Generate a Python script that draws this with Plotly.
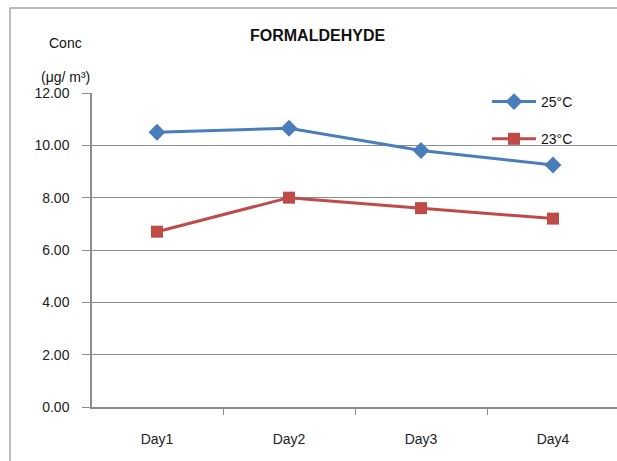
import plotly.graph_objects as go

days = ["Day1", "Day2", "Day3", "Day4"]
temp25 = [10.50, 10.65, 9.80, 9.25]
temp23 = [6.70, 8.00, 7.60, 7.20]
y_ticks = [0, 2, 4, 6, 8, 10, 12]
y_tick_text = ["0.00", "2.00", "4.00", "6.00", "8.00", "10.00", "12.00"]

FONT = "Liberation Sans"
GRID = "#8c8c8c"

fig = go.Figure()
fig.add_trace(go.Scatter(
    x=days, y=temp25, name="25°C", mode="lines+markers",
    line=dict(color="#4A7EBB", width=3),
    marker=dict(symbol="diamond", size=13, color="#4A7EBB"),
    legendgroup="a",
))
fig.add_trace(go.Scatter(
    x=days, y=temp23, name="23°C", mode="lines+markers",
    line=dict(color="#BE4B48", width=3),
    marker=dict(symbol="square", size=12, color="#BE4B48"),
    legendgroup="b",
))

W, H = 617, 461
L, T, B, R = 92, 93, 54, 0
pw, ph = W - L - R, H - T - B

fig.update_layout(
    width=W, height=H,
    margin=dict(l=L, r=R, t=T, b=B, pad=0),
    paper_bgcolor="white", plot_bgcolor="white",
    font=dict(family=FONT, size=13, color="#222222"),
    showlegend=True,
    legend=dict(
        x=(487 - L) / pw, y=1.0 + 7 / ph, xanchor="left", yanchor="top",
        bgcolor="rgba(0,0,0,0)", font=dict(size=14, color="#111111"),
        traceorder="grouped", tracegroupgap=16, itemwidth=44,
    ),
    annotations=[
        dict(text="<b>FORMALDEHYDE</b>", xref="paper", yref="paper",
             x=(317 - L) / pw, y=(H - B - 35) / ph, xanchor="center", yanchor="middle",
             showarrow=False, font=dict(size=16, color="#111111")),
        dict(text="Conc", xref="paper", yref="paper",
             x=(65 - L) / pw, y=(H - B - 43) / ph, xanchor="center", yanchor="middle",
             showarrow=False, font=dict(size=14, color="#111111")),
        dict(text="(μg/ m³)", xref="paper", yref="paper",
             x=(65 - L) / pw, y=(H - B - 77) / ph, xanchor="center", yanchor="middle",
             showarrow=False, font=dict(size=14, color="#111111")),
    ],
    shapes=[
        dict(type="path", xref="paper", yref="paper",
             path="M {x0},{y0} L {x0},{y1} L {x1},{y1}".format(
                 x0=(10 - L) / pw, y0=(H - B - H) / ph,
                 y1=(H - B - 8) / ph, x1=1.0),
             line=dict(color="#a6a6a6", width=1.5)),
    ],
)

fig.update_xaxes(
    type="category", range=[(L - 157) / 132, (W - 157) / 132],
    showline=True, linecolor=GRID, linewidth=1.5,
    ticks="outside", tickson="boundaries", ticklen=6, tickcolor=GRID,
    showgrid=False, tickfont=dict(size=14, color="#222222"),
    ticklabelstandoff=18,
)
fig.update_yaxes(
    range=[0, 12], tickvals=y_ticks, ticktext=y_tick_text,
    showline=True, linecolor=GRID, linewidth=1.5,
    ticks="outside", ticklen=8, tickcolor=GRID,
    showgrid=True, gridcolor=GRID, gridwidth=1.2, zeroline=False,
    tickfont=dict(size=14, color="#222222"), ticklabelstandoff=10,
)

fig.write_html(
    "out.html",
    post_script="document.body.style.margin='0';document.body.style.overflow='hidden';",
)
